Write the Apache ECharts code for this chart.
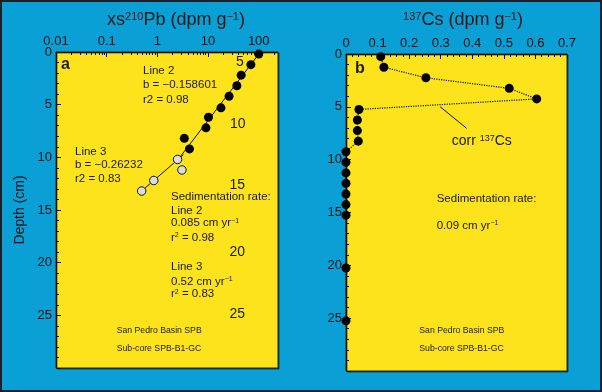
<!DOCTYPE html>
<html>
<head>
<meta charset="utf-8">
<script src="https://cdn.jsdelivr.net/npm/echarts@6/dist/echarts.min.js"></script>
<style>
  html, body { margin: 0; padding: 0; background: #0aa0d6; }
  #chart { width: 602px; height: 392px; }
</style>
</head>
<body>
<div id="chart"></div>
<script>
// xs210Pb, panel a
var pbDepth = [0.2, 1.2, 2.2, 3.2, 4.2, 5.3, 6.2, 7.2, 8.2, 9.2];
var pbValue = [100, 70, 45, 37, 26, 18, 10.2, 9.1, 3.4, 4.3];
var pbOpenDepth = [10.2, 11.2, 12.2, 13.2];
var pbOpenValue = [2.5, 3.05, 0.85, 0.49];
var line2Pts = [[108, 0], [2.54, 10.24]];
var line3Pts = [[3.28, 9.75], [0.457, 13.32]];

// 137Cs, panel b
var csDepth = [0.25, 1.25, 2.25, 3.25, 4.25, 5.25, 6.25, 7.25, 8.25, 9.25, 10.25, 11.25, 12.25, 13.25, 14.25, 15.25, 20.25, 25.25];
var csValue = [0.11, 0.12, 0.253, 0.517, 0.604, 0.041, 0.036, 0.036, 0.039, 0, 0, 0, 0, 0, 0, 0, 0, 0];
var corrLeader = [[0.298, 4.99], [0.382, 7.03]];

// minor ticks of the log axis (2..9 in each decade), as log10 values
var PB_MAX = 240;
var pbMinorTicks = [];
[0.01, 0.1, 1, 10, 100].forEach(function (d) {
    for (var k = 2; k <= 9; k++) {
        if (k * d <= PB_MAX) pbMinorTicks.push(Math.log10(k * d));
    }
});

var chartDom = document.getElementById('chart');
var myChart = echarts.init(chartDom);
var option;

var FONT = '"Liberation Sans", Arial, Helvetica, sans-serif';
var INK = '#111';

function depthAxis(grid) {
    return {
        type: 'value',
        gridIndex: grid,
        inverse: true,
        min: 0,
        max: 30,
        interval: 5,
        axisLine: {show: true, onZero: false, lineStyle: {color: INK, width: 1}},
        axisTick: {show: true, inside: true, length: 5, lineStyle: {color: INK}},
        minorTick: {show: true, splitNumber: 5, length: 3, lineStyle: {color: INK}},
        axisLabel: {color: INK, fontSize: 13, margin: 4, showMaxLabel: false},
        splitLine: {show: false}
    };
}

function txt(x, y, text, size, extra) {
    var style = {
        x: x, y: y, text: text,
        font: (extra && extra.bold ? 'bold ' : '') + size + 'px ' + FONT,
        fill: '#1a1a1a',
        textVerticalAlign: 'middle'
    };
    if (extra && extra.rich) style.rich = extra.rich;
    if (extra && extra.align) style.textAlign = extra.align;
    return {type: 'text', style: style, z: 100};
}

var supRich = function (base) {
    return {
        n: {fontSize: base, fontFamily: FONT, color: '#1a1a1a', verticalAlign: 'bottom'},
        s: {fontSize: Math.round(base * 0.62), fontFamily: FONT, color: '#1a1a1a', verticalAlign: 'top'}
    };
};

var graphics = [
    {type: 'rect', shape: {x: 1, y: 1, width: 600, height: 390}, style: {fill: 'none', stroke: '#17202b', lineWidth: 2}, z: 100},
    // titles
    txt(176, 20, '{n|xs}{s|210}{n|Pb (dpm g}{s|−1}{n|)}', 18, {rich: supRich(18), align: 'center'}),
    txt(463, 20, '{s|137}{n|Cs (dpm g}{s|−1}{n|)}', 18, {rich: supRich(18), align: 'center'}),
    // panel a
    txt(61, 65, 'a', 16, {bold: true}),
    txt(143, 71, 'Line 2', 11.5),
    txt(143, 85.3, 'b = −0.158601', 11.5),
    txt(143, 99.7, 'r2 = 0.98', 11.5),
    txt(236, 62.5, '5', 14),
    txt(230, 124, '10', 14),
    txt(229.5, 185.5, '15', 14),
    txt(229.5, 251.7, '20', 14),
    txt(229.5, 314.3, '25', 14),
    txt(75, 151.7, 'Line 3', 11.5),
    txt(75, 165, 'b = −0.26232', 11.5),
    txt(75, 178.7, 'r2 = 0.83', 11.5),
    txt(171, 197.3, 'Sedimentation rate:', 11.5),
    txt(171, 210.7, 'Line 2', 11.5),
    txt(171, 223.3, '{n|0.085 cm yr}{s|−1}', 11.5, {rich: supRich(11.5)}),
    txt(171, 237.7, '{n|r}{s|2}{n| = 0.98}', 11.5, {rich: supRich(11.5)}),
    txt(171, 266.7, 'Line 3', 11.5),
    txt(171, 281.7, '{n|0.52 cm yr}{s|−1}', 11.5, {rich: supRich(11.5)}),
    txt(171, 294.3, '{n|r}{s|2}{n| = 0.83}', 11.5, {rich: supRich(11.5)}),
    txt(116.7, 331, 'San Pedro Basin SPB', 8.7),
    txt(116.7, 349, 'Sub-core SPB-B1-GC', 8.7),
    // panel b
    txt(355, 69, 'b', 16, {bold: true}),
    txt(451.7, 141, '{n|corr }{s|137}{n|Cs}', 14, {rich: supRich(14)}),
    txt(436.7, 199.3, 'Sedimentation rate:', 11.5),
    txt(436.7, 226, '{n|0.09 cm yr}{s|−1}', 11.5, {rich: supRich(11.5)}),
    txt(419.3, 331, 'San Pedro Basin SPB', 8.7),
    txt(419.3, 349, 'Sub-core SPB-B1-GC', 8.7)
];

option = {
    animation: false,
    backgroundColor: '#0aa0d6',
    textStyle: {fontFamily: FONT},
    grid: [{
        left: 56, top: 52, width: 222, height: 316,
        show: true,
        backgroundColor: '#fde31b',
        borderColor: '#2a2a1a',
        borderWidth: 1,
        shadowColor: 'rgba(0,0,0,0.55)',
        shadowOffsetX: 1,
        shadowOffsetY: 1
    }, {
        left: 346, top: 54, width: 221, height: 317,
        show: true,
        backgroundColor: '#fde31b',
        borderColor: '#2a2a1a',
        borderWidth: 1,
        shadowColor: 'rgba(0,0,0,0.55)',
        shadowOffsetX: 1,
        shadowOffsetY: 1
    }],
    xAxis: [{
        type: 'log',
        logBase: 10,
        gridIndex: 0,
        position: 'top',
        min: 0.01,
        max: PB_MAX,
        axisLine: {show: true, onZero: false, lineStyle: {color: INK}},
        axisTick: {show: true, inside: true, length: 5, lineStyle: {color: INK}},
        axisLabel: {color: INK, fontSize: 13, margin: 4, showMaxLabel: false,
            formatter: function (v) { return String(+v.toPrecision(2)); }},
        splitLine: {show: false}
    }, {
        // same axis in log10 space, only for the minor ticks
        type: 'value',
        gridIndex: 0,
        position: 'top',
        min: -2,
        max: Math.log10(PB_MAX),
        axisLine: {show: false, onZero: false},
        axisTick: {show: true, inside: true, length: 3, customValues: pbMinorTicks, lineStyle: {color: INK}},
        axisLabel: {show: false},
        splitLine: {show: false}
    }, {
        type: 'value',
        gridIndex: 1,
        position: 'top',
        min: 0,
        max: 0.7,
        interval: 0.1,
        axisLine: {show: true, onZero: false, lineStyle: {color: INK}},
        axisTick: {show: true, inside: true, length: 5, lineStyle: {color: INK}},
        minorTick: {show: true, splitNumber: 5, length: 3, lineStyle: {color: INK}},
        axisLabel: {color: INK, fontSize: 13, margin: 4},
        splitLine: {show: false}
    }],
    yAxis: [
        Object.assign(depthAxis(0), {
            name: 'Depth (cm)',
            nameLocation: 'middle',
            nameRotate: 90,
            nameGap: 29,
            nameTextStyle: {color: INK, fontSize: 14}
        }),
        depthAxis(1)
    ],
    graphic: graphics,
    series: [{
        name: 'Line 2',
        type: 'line',
        xAxisIndex: 0, yAxisIndex: 0,
        symbol: 'none',
        lineStyle: {color: INK, width: 1},
        data: line2Pts,
        z: 2
    }, {
        name: 'Line 3',
        type: 'line',
        xAxisIndex: 0, yAxisIndex: 0,
        symbol: 'none',
        lineStyle: {color: INK, width: 1},
        data: line3Pts,
        z: 2
    }, {
        name: 'xs210Pb',
        type: 'scatter',
        xAxisIndex: 0, yAxisIndex: 0,
        symbolSize: 9,
        itemStyle: {color: '#000', opacity: 1},
        data: pbValue.map(function (v, i) { return [v, pbDepth[i]]; }),
        z: 3
    }, {
        name: 'xs210Pb open',
        type: 'scatter',
        xAxisIndex: 0, yAxisIndex: 0,
        symbolSize: 8.5,
        itemStyle: {color: '#dcdcdc', borderColor: '#111', borderWidth: 1, opacity: 1},
        data: pbOpenValue.map(function (v, i) { return [v, pbOpenDepth[i]]; }),
        z: 3
    }, {
        name: '137Cs',
        type: 'line',
        xAxisIndex: 2, yAxisIndex: 1,
        symbol: 'circle',
        symbolSize: 9,
        clip: false,
        lineStyle: {color: INK, width: 1.2, type: 'dotted'},
        itemStyle: {color: '#000'},
        data: csValue.map(function (v, i) { return [v, csDepth[i]]; }),
        z: 3
    }, {
        name: 'corr leader',
        type: 'line',
        xAxisIndex: 2, yAxisIndex: 1,
        symbol: 'none',
        lineStyle: {color: INK, width: 1},
        data: corrLeader,
        z: 2
    }]
};

myChart.setOption(option);
</script>
</body>
</html>
